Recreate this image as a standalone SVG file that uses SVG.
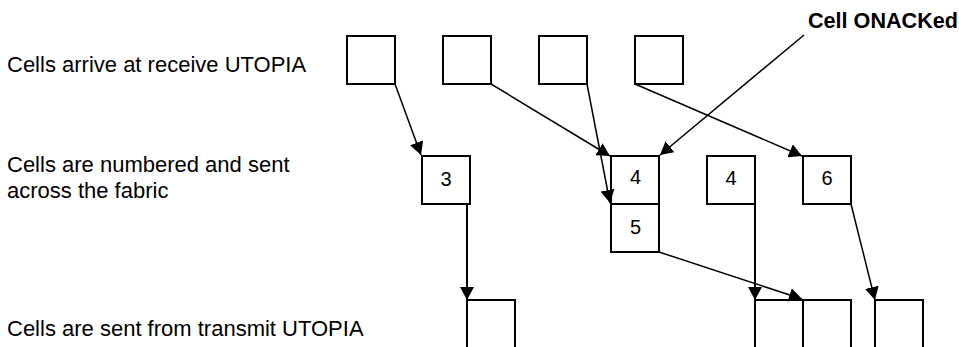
<svg xmlns="http://www.w3.org/2000/svg" width="959" height="347" viewBox="0 0 959 347">
<style>
.bx{fill:#fff;stroke:#000;stroke-width:2}
.op{fill:none;stroke:#000;stroke-width:2}
.lbl{font-family:"Liberation Sans",Arial,sans-serif;font-size:22px;fill:#000}
.num{font-family:"Liberation Sans",Arial,sans-serif;font-size:20px;fill:#000;text-anchor:middle}
.bold{font-family:"Liberation Sans",Arial,sans-serif;font-size:21.6px;font-weight:bold;fill:#000}
.c{fill:none;stroke:#000;stroke-width:1.5;marker-end:url(#ah)}
.cv{fill:none;stroke:#000;stroke-width:2;marker-end:url(#ah)}
</style>
<defs>
<marker id="ah" markerUnits="userSpaceOnUse" markerWidth="14" markerHeight="14" refX="13" refY="7" orient="auto" viewBox="0 0 14 14">
<path d="M0,0 L13,7 L0,14 z" fill="#000"/>
</marker>
</defs>
<rect width="959" height="347" fill="#fff"/>
<g id="labels">
<text class="lbl" x="7" y="72">Cells arrive at receive UTOPIA</text>
<text class="lbl" x="7" y="171.5">Cells are numbered and sent</text>
<text class="lbl" x="7" y="197.5">across the fabric</text>
<text class="lbl" x="7" y="335.5">Cells are sent from transmit UTOPIA</text>
<text class="bold" x="808" y="27.5">Cell ONACKed</text>
</g>
<g id="rx1"><rect class="bx" x="347" y="36" width="48" height="48"/></g>
<g id="rx2"><rect class="bx" x="443" y="36" width="48" height="48"/></g>
<g id="rx3"><rect class="bx" x="539" y="36" width="48" height="48"/></g>
<g id="rx4"><rect class="bx" x="635" y="36" width="48" height="48"/></g>
<g id="f3"><rect class="bx" x="422" y="156" width="48" height="48"/><text class="num" x="446" y="186">3</text></g>
<g id="f4a"><rect class="bx" x="611" y="156" width="48" height="48"/><text class="num" x="635.5" y="184">4</text></g>
<g id="f5"><rect class="bx" x="611" y="204" width="48" height="48"/><text class="num" x="635.5" y="233.5">5</text></g>
<g id="f4b"><rect class="bx" x="707" y="156" width="48" height="48"/><text class="num" x="731" y="185">4</text></g>
<g id="f6"><rect class="bx" x="803" y="156" width="48" height="48"/><text class="num" x="827" y="185">6</text></g>
<g id="tx1"><path class="op" d="M467,348 V300 H515 V348"/></g>
<g id="tx2"><path class="op" d="M755,348 V300 H803 V348"/></g>
<g id="tx3"><path class="op" d="M803,348 V300 H851 V348"/></g>
<g id="tx4"><path class="op" d="M875,348 V300 H923 V348"/></g>
<g id="connectors">
<path class="c" d="M395,84 L421,155"/>
<path class="c" d="M491,84 L610,156"/>
<path class="c" d="M587,84 L610,203"/>
<path class="c" d="M635,84 L802,156"/>
<path class="c" d="M804,35 L660,155"/>
<path class="cv" d="M467,204 V300"/>
<path class="cv" d="M755,204 V300"/>
<path class="c" d="M659,252 L802,299"/>
<path class="c" d="M851,204 L875,300"/>
</g>
</svg>
